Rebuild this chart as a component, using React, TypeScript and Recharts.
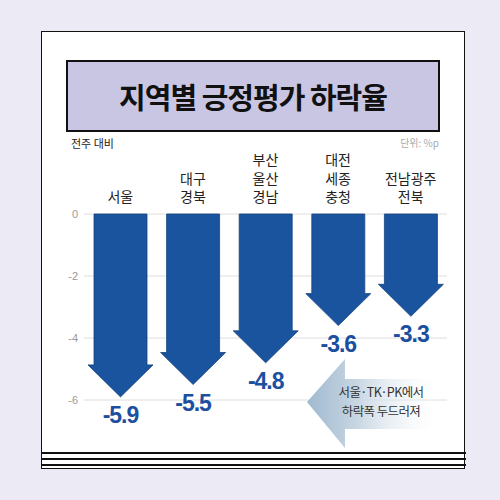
import React from 'react'
import { BarChart, Bar, XAxis, YAxis, CartesianGrid, LabelList } from 'recharts'

const REGIONS = ['서울', '대구\n경북', '부산\n울산\n경남', '대전\n세종\n충청', '전남광주\n전북']
const DECLINE = [-5.9, -5.5, -4.8, -3.6, -3.3]
const Y_TICKS = [0, -2, -4, -6]

const data = REGIONS.map((region, i) => ({ region, value: DECLINE[i] }))

const FONT = '"Noto Sans CJK KR", "Noto Sans", sans-serif'
const ARROW = '#1a549e'
const LABEL_BLUE = '#1c4f9f'

const ArrowShape = (props: any) => {
    const { x, y, width, height } = props
    const top = Math.min(y, y + height)
    const bot = Math.max(y, y + height)
    const cx = x + width / 2
    const headH = 32
    const hw = width / 2 + 6
    const d = `M${x},${top} L${x + width},${top} L${x + width},${bot - headH} L${cx + hw},${bot - headH} L${cx},${bot} L${cx - hw},${bot - headH} L${x},${bot - headH} Z`
    return <path d={d} fill={ARROW} stroke="#15427f" strokeWidth={0.8} />
}

const ValueLabel = (props: any) => {
    const { x, y, width, height, value } = props
    const bot = Math.max(y, y + height)
    return (
        <text x={x + width / 2} y={bot + 26} textAnchor="middle" fill={LABEL_BLUE}
            fontSize={23} fontWeight={700} letterSpacing={-1} fontFamily='"Liberation Sans", Arial, sans-serif'>
            {value}
        </text>
    )
}

const RegionTick = (props: any) => {
    const { x, y, payload } = props
    const lines = String(payload.value).split('\n')
    const base = y - 4
    return (
        <g>
            {lines.map((l, i) => (
                <text key={i} x={x} y={base - (lines.length - 1 - i) * 18.5} textAnchor="middle"
                    fill="#222" fontSize={14} fontFamily={FONT}>
                    {l}
                </text>
            ))}
        </g>
    )
}

const ValueTick = (props: any) => {
    const { x, y, payload } = props
    return (
        <text x={x + 2} y={y + 4} textAnchor="end" fill="#9a9a9a" fontSize={11} fontFamily='"Liberation Sans", Arial, sans-serif'>
            {payload.value}
        </text>
    )
}

export default function App() {
    return (
        <div style={{ position: 'absolute', left: 0, top: 0, width: 500, height: 500, background: '#ecebf5', fontFamily: FONT }}>
            {/* 종이 */}
            <div style={{ position: 'absolute', left: 41, top: 31, width: 422, height: 436, background: '#fff', border: '1.5px solid #111' }} />
            {[452, 458, 464].map(t => (
                <div key={t} style={{ position: 'absolute', left: 41, top: t, width: 425, height: 1.5, background: '#111' }} />
            ))}
            {/* 제목 */}
            <div style={{
                position: 'absolute', left: 66, top: 60, width: 370, height: 68, background: '#c9c6e4',
                border: '2px solid #111', display: 'flex', alignItems: 'center', justifyContent: 'center',
                fontSize: 29, fontWeight: 700, color: '#111', letterSpacing: -1,
            }}>
                지역별 긍정평가 하락율
            </div>
            <div style={{ position: 'absolute', left: 71, top: 135, fontSize: 11, color: '#222' }}>전주 대비</div>
            <div style={{ position: 'absolute', right: 61, top: 135, fontSize: 10, color: '#aaa' }}>단위: %p</div>

            <div style={{ position: 'absolute', left: 0, top: 0 }}>
                <BarChart width={500} height={500} data={data} barSize={53}
                    margin={{ top: 140, right: 53, left: 44, bottom: 69 }}>
                    <CartesianGrid vertical={false} horizontalValues={Y_TICKS} stroke="#dedede" />
                    <XAxis dataKey="region" orientation="top" height={74} axisLine={false} tickLine={false}
                        tick={<RegionTick />} interval={0} />
                    <YAxis domain={[-7, 0]} ticks={Y_TICKS} width={40} axisLine={false} tickLine={false}
                        tick={<ValueTick />} />
                    <Bar dataKey="value" shape={<ArrowShape />} isAnimationActive={false}>
                        <LabelList dataKey="value" content={<ValueLabel />} />
                    </Bar>
                </BarChart>
            </div>

            {/* 설명 화살표 */}
            <svg width={500} height={500} style={{ position: 'absolute', left: 0, top: 0 }}>
                <defs>
                    <linearGradient id="callout" x1="0" x2="1" y1="0" y2="0">
                        <stop offset="0" stopColor="#a0b9cf" />
                        <stop offset="0.35" stopColor="#c6d5e2" />
                        <stop offset="1" stopColor="#ffffff" stopOpacity={0} />
                    </linearGradient>
                </defs>
                <path d="M307,402 L345,359 L345,379 L445,379 L445,429 L345,429 L345,448 Z" fill="url(#callout)" />
                <text x={381} y={397} textAnchor="middle" fontSize={12.5} fill="#333" fontFamily={FONT} letterSpacing={-0.6}>서울·TK·PK에서</text>
                <text x={381} y={416} textAnchor="middle" fontSize={12.5} fill="#333" fontFamily={FONT} letterSpacing={-0.6}>하락폭 두드러져</text>
            </svg>
        </div>
    )
}
